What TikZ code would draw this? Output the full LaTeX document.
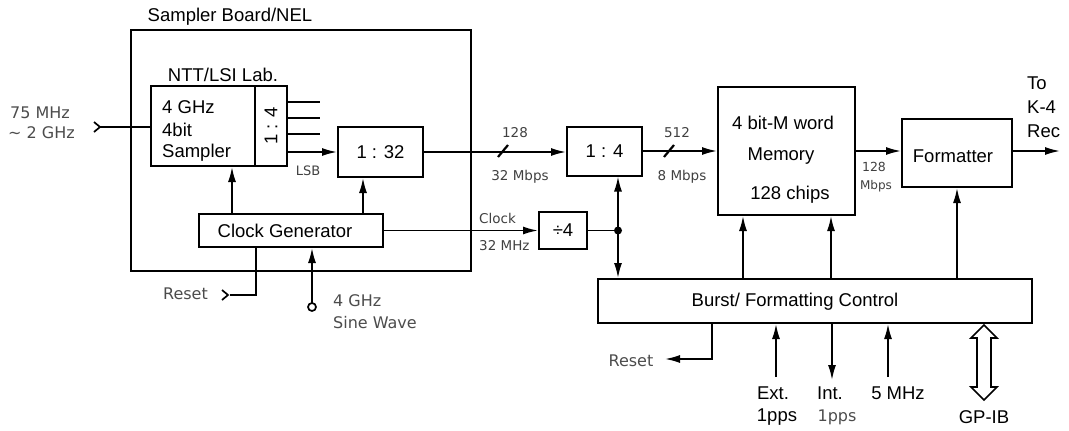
\documentclass[tikz,border=0pt]{standalone}
\usepackage{fontspec}
\setmainfont{Liberation Sans}
\newfontfamily\labfont{DejaVu Sans}
\usetikzlibrary{arrows.meta}
\begin{document}
\begin{tikzpicture}[x=1pt,y=-1pt,
  box/.style={draw, line width=2pt, inner sep=0pt},
  ln/.style={line width=1.7pt},
  arr/.style={ln, -{Latex[length=15pt,width=8pt]}},
  main/.style={font=\fontsize{18.5}{23}\selectfont, inner sep=0pt},
  lab/.style={font=\labfont\fontsize{13.5}{16}\selectfont, text=black!75, inner sep=0pt},
  labbig/.style={font=\labfont\fontsize{16}{19}\selectfont, text=black!70, inner sep=0pt},
  ]
\useasboundingbox (0,0) rectangle (1069,431);

% ---------- boxes ----------
\node[box, minimum width=340, minimum height=241] (board) at (301,150.5) {};
\node[box, minimum width=104, minimum height=80] (sampler) at (203,126) {};
\node[box, minimum width=32, minimum height=80] (sub) at (271,126) {};
\node[box, minimum width=85, minimum height=50] (b132) at (380.5,152) {};
\node[box, minimum width=184, minimum height=33] (clk) at (291,230.5) {};
\node[box, minimum width=75, minimum height=49] (b14) at (604.5,151) {};
\node[box, minimum width=48, minimum height=37] (div) at (563,230.5) {};
\node[box, minimum width=137, minimum height=128] (mem) at (786.5,151) {};
\node[box, minimum width=110, minimum height=68] (fmt) at (957,153) {};
\node[box, minimum width=434, minimum height=44] (burst) at (815,301) {};

% ---------- box texts ----------
\node[main] (tboard) at (230,17) {Sampler Board/NEL};
\node[main] (tntt) at (223,75) {NTT/LSI Lab.};
\node[main, anchor=west] (ts1) at (162,107) {4 GHz};
\node[main, anchor=west] (ts2) at (162,130) {4bit};
\node[main, anchor=west] (ts3) at (162,153) {Sampler};
\node[main, rotate=90] (tsub) at (sub) {1 : 4};
\node[main] (t132) at (b132) {1 : 32};
\node[main] (tclk) at (285,231) {Clock Generator};
\node[main] (t14) at (b14) {1 : 4};
\node[main] (tdiv) at (div) {÷4};
\node[main] (tm1) at (783,123) {4 bit-M word};
\node[main] (tm2) at (781,156) {Memory};
\node[main] (tm3) at (790,195) {128 chips};
\node[main] (tfmt) at (953,156) {Formatter};
\node[main] (tburst) at (795,302) {Burst/ Formatting Control};
\node[main, anchor=west] (to1) at (1027,83) {To};
\node[main, anchor=west] (to2) at (1027,107) {K-4};
\node[main, anchor=west] (to3) at (1027,131) {Rec};

% ---------- small labels ----------
\node[labbig, anchor=west] (in1) at (10,113) {75 MHz};
\node[labbig, anchor=west] (in2) at (8,133) {∼ 2 GHz};
\node[lab, font=\labfont\fontsize{13}{15}\selectfont] (lsb) at (308,171) {LSB};
\node[labbig, anchor=east] (rst1) at (208,294) {Reset};
\node[labbig, anchor=west] (sw1) at (333,301) {4 GHz};
\node[labbig, anchor=west] (sw2) at (333,323) {Sine Wave};
\node[lab] (l128) at (515,133) {128};
\node[lab] (l32) at (520,177) {32 Mbps};
\node[lab] (l512) at (677,133) {512};
\node[lab] (l8) at (682,177) {8 Mbps};
\node[lab, anchor=west] (lclk) at (479,218) {Clock};
\node[lab, anchor=west] (l32m) at (479,246) {32 MHz};
\node[lab, font=\labfont\fontsize{12.5}{15}\selectfont] (l128b) at (874,167) {128};
\node[lab, font=\labfont\fontsize{12}{15}\selectfont] (lmb) at (876,186) {Mbps};
\node[labbig] (rst2) at (631,361) {Reset};
\node[main] (ext1) at (773,393) {Ext.};
\node[main] (ext2) at (777,417) {1pps};
\node[main] (int1) at (830,393) {Int.};
\node[labbig] (int2) at (837,417) {1pps};
\node[main] (f5) at (898,393) {5 MHz};
\node[main] (gpib) at (984,417) {GP-IB};

% ---------- coordinates ----------
\coordinate (inp) at (100,127);
\coordinate (o1) at (320,102);
\coordinate (o2) at (320,118);
\coordinate (o3) at (320,134);
\coordinate (ca) at (232,0);
\coordinate (cb) at (363,0);
\coordinate (cr) at (256,295);
\coordinate (crx) at (230,295);
\coordinate (sine) at (312,307);
\coordinate (dot) at (618,230.5);
\coordinate (m1) at (743,0);
\coordinate (m2) at (831,0);
\coordinate (out) at (1060,151);
\coordinate (br) at (712,359);
\coordinate (bre) at (665,359);
\coordinate (ext) at (776,377);
\coordinate (int) at (832,380);
\coordinate (fmhz) at (888,377);

% ---------- connectors ----------
% input
\draw[ln] (94,122) -- (inp) -- (94,132);
\draw[ln] (inp) -- (inp -| sampler.west);
% 1:4 outputs
\draw[ln] (o1 -| sub.east) -- (o1);
\draw[ln] (o2 -| sub.east) -- (o2);
\draw[ln] (o3 -| sub.east) -- (o3);
\draw[arr] (sub.east |- b132.west) -- (b132.west);
% data path
\draw[arr] (b132.east) -- (b132.east -| b14.west);
\draw[line width=2.2pt] (498,157) -- (508,145);
\draw[arr] (b14.east) -- (b14.east -| mem.west);
\draw[line width=2.2pt] (664,157) -- (674,145);
\draw[arr] (mem.east) -- (mem.east -| fmt.west);
\draw[arr] (mem.east -| fmt.east) -- (out);
% clock generator
\draw[arr] (clk.north -| ca) -- (sampler.south -| ca);
\draw[arr] (clk.north -| cb) -- (b132.south -| cb);
\draw[ln] (clk.south -| cr) -- (cr) -- (crx);
\draw[ln] (222,290) -- (228,295) -- (222,300);
\draw[ln] (sine) circle (4);
\draw[arr] ([yshift=4pt]sine) -- (clk.south -| sine);
\draw[arr] (clk.east) -- (clk.east -| div.west);
\draw[ln] (div.east) -- (dot);
\fill (dot) circle (4);
\draw[arr] (dot) -- (dot |- b14.south);
\draw[arr] (dot) -- (dot |- burst.north);
% burst control
\draw[arr] (burst.north -| m1) -- (mem.south -| m1);
\draw[arr] (burst.north -| m2) -- (mem.south -| m2);
\draw[arr] (burst.north -| fmt.south) -- (fmt.south);
\draw[arr] (burst.south -| br) -- (br) -- (bre);
\draw[arr] (ext) -- (burst.south -| ext);
\draw[arr] (burst.south -| int) -- (int);
\draw[arr] (fmhz) -- (burst.south -| fmhz);
\draw[ln, line join=miter] (984,325) -- (997,338) -- (991,338) -- (991,387) -- (997,387)
  -- (984,400) -- (971,387) -- (977,387) -- (977,338) -- (971,338) -- cycle;
\end{tikzpicture}
\end{document}
